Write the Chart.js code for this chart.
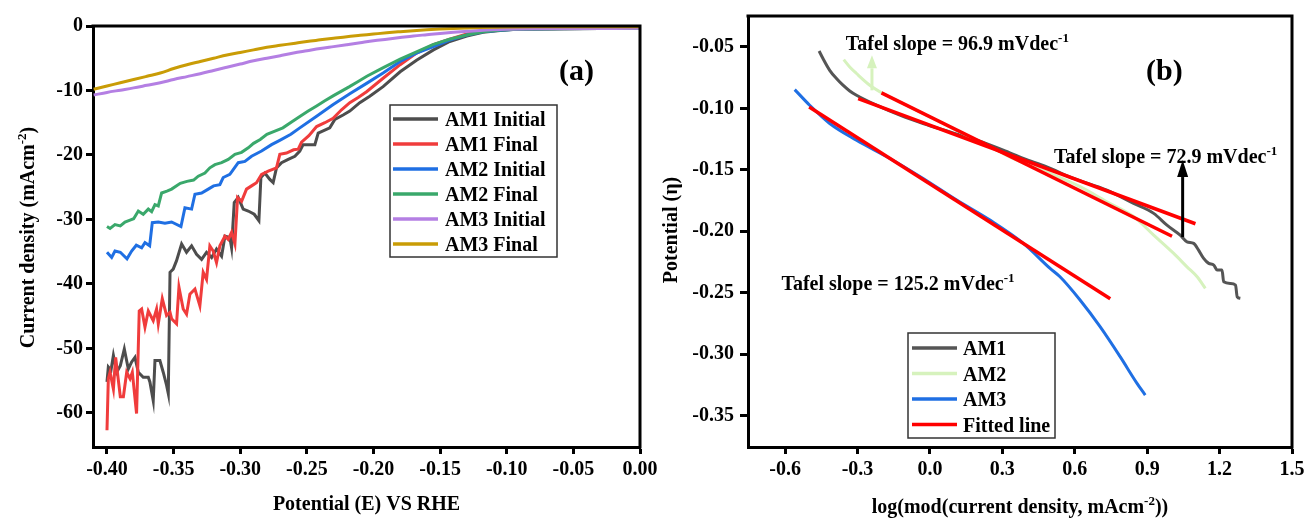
<!DOCTYPE html>
<html>
<head>
<meta charset="utf-8">
<title>LSV and Tafel plots</title>
<script src="https://cdn.jsdelivr.net/npm/chart.js@4.4.1/dist/chart.umd.min.js"></script>
<style>
  html, body { margin: 0; padding: 0; background: #fff; }
  #wrap { position: relative; width: 1308px; height: 519px; overflow: hidden; background: #fff; }
  #wrap canvas { position: absolute; left: 0; top: 0; }
</style>
</head>
<body>
<div id="wrap">
  <canvas id="lsv" width="1308" height="519"></canvas>
  <canvas id="tafel" width="1308" height="519"></canvas>
</div>
<script>
// ---------- Panel (a): polarization curves, current density vs potential ----------
const lsvLabels = ['AM1 Initial', 'AM1 Final', 'AM2 Initial', 'AM2 Final', 'AM3 Initial', 'AM3 Final'];
const lsvColors = ['#4d4d4d', '#f03c3c', '#1f6fe3', '#3aa86b', '#b47fe3', '#c99c06'];
const lsvSmooth = [false, false, false, false, true, true];

const am1InitialX = [-0.400,-0.399,-0.397,-0.3952,-0.3927,-0.390,-0.387,-0.384,-0.3815,-0.379,-0.3765,-0.3728,-0.369,-0.3678,-0.3653,-0.364,-0.3603,-0.3578,-0.3553,-0.354,-0.3527,-0.3503,-0.3478,-0.344,-0.3403,-0.3365,-0.3328,-0.329,-0.3253,-0.3215,-0.3178,-0.314,-0.3115,-0.3078,-0.3065,-0.3045,-0.3015,-0.2978,-0.294,-0.2895,-0.286,-0.2845,-0.2815,-0.2778,-0.2753,-0.2728,-0.269,-0.264,-0.259,-0.2553,-0.2528,-0.244,-0.2415,-0.2328,-0.229,-0.2228,-0.2178,-0.2103,-0.2028,-0.1928,-0.180,-0.1677,-0.155,-0.1428,-0.130,-0.1178,-0.105,-0.0927,-0.070,-0.040,0.000];
const am1InitialY = [-55.2,-52.9,-53.4,-51.1,-53.7,-52.7,-50.1,-53.2,-52.1,-51.4,-53.7,-54.5,-54.5,-55.2,-58.1,-51.9,-51.9,-53.7,-55.7,-57.0,-38.2,-37.7,-36.4,-33.8,-35.1,-34.1,-35.4,-36.2,-35.1,-35.9,-34.6,-35.7,-32.6,-32.8,-34.4,-27.4,-26.6,-28.4,-28.7,-29.2,-30.2,-23.5,-22.8,-23.8,-24.3,-22.0,-21.2,-20.7,-20.2,-19.4,-18.4,-18.4,-16.6,-15.8,-14.5,-13.8,-13.2,-11.9,-10.9,-9.4,-7.1,-5.3,-3.7,-2.4,-1.55,-0.98,-0.7,-0.5,-0.42,-0.38,-0.35];

const am1FinalX = [-0.400,-0.399,-0.3977,-0.3952,-0.3935,-0.390,-0.3877,-0.3852,-0.3827,-0.381,-0.3778,-0.3758,-0.374,-0.3715,-0.369,-0.3653,-0.3628,-0.3615,-0.3585,-0.3553,-0.3527,-0.3515,-0.3478,-0.346,-0.3428,-0.3403,-0.3378,-0.334,-0.3303,-0.3278,-0.3253,-0.3228,-0.3203,-0.3178,-0.3153,-0.3115,-0.309,-0.3065,-0.304,-0.302,-0.299,-0.2953,-0.2915,-0.2878,-0.284,-0.279,-0.2728,-0.2703,-0.2653,-0.260,-0.2565,-0.254,-0.2485,-0.2427,-0.2365,-0.2303,-0.224,-0.2178,-0.2115,-0.2052,-0.1928,-0.180,-0.1677,-0.155,-0.1428,-0.130,-0.1178,-0.105,-0.0927,-0.060,-0.030,0.000];
const am1FinalY = [-62.7,-54.7,-53.7,-56.3,-51.4,-57.5,-57.5,-53.7,-54.7,-53.7,-60.1,-44.2,-43.9,-46.7,-44.2,-45.7,-43.9,-46.2,-42.3,-44.9,-44.4,-45.4,-46.2,-40.5,-43.9,-44.7,-41.6,-40.8,-43.4,-38.2,-39.3,-34.1,-34.9,-36.7,-34.1,-32.6,-33.1,-32.0,-33.8,-26.6,-27.2,-25.3,-24.8,-24.3,-23.0,-22.5,-22.0,-19.9,-19.7,-19.2,-19.1,-18.0,-17.0,-15.6,-15.0,-14.3,-13.0,-11.9,-11.1,-10.2,-8.1,-6.0,-4.2,-2.9,-2.06,-1.24,-0.77,-0.6,-0.5,-0.42,-0.4,-0.38];

const am2InitialX = [-0.400,-0.3965,-0.394,-0.390,-0.385,-0.3815,-0.378,-0.374,-0.3715,-0.368,-0.366,-0.3615,-0.3565,-0.3515,-0.3445,-0.3415,-0.3365,-0.334,-0.329,-0.324,-0.320,-0.3153,-0.3128,-0.3078,-0.3015,-0.2965,-0.2915,-0.284,-0.2765,-0.270,-0.262,-0.2553,-0.2427,-0.2305,-0.2178,-0.2052,-0.1928,-0.180,-0.1677,-0.155,-0.1428,-0.130,-0.118,-0.105,-0.0927,-0.060,-0.030,0.000];
const am2InitialY = [-35.1,-35.9,-34.9,-35.1,-36.1,-34.9,-34.0,-34.4,-33.6,-34.1,-30.5,-30.4,-30.6,-30.4,-31.1,-28.2,-28.4,-26.1,-25.9,-25.3,-24.8,-24.6,-23.5,-23.0,-21.2,-21.0,-20.2,-19.4,-18.4,-17.7,-16.8,-15.8,-14.0,-12.2,-10.5,-8.9,-7.3,-5.5,-4.2,-3.2,-2.2,-1.4,-0.9,-0.65,-0.5,-0.42,-0.4,-0.38];

const am2FinalX = [-0.400,-0.3977,-0.394,-0.390,-0.3865,-0.3827,-0.380,-0.3765,-0.3728,-0.369,-0.3665,-0.364,-0.3615,-0.359,-0.355,-0.3515,-0.345,-0.340,-0.335,-0.3315,-0.3265,-0.3228,-0.319,-0.314,-0.309,-0.304,-0.299,-0.294,-0.290,-0.285,-0.280,-0.274,-0.268,-0.2615,-0.255,-0.249,-0.2427,-0.2365,-0.230,-0.224,-0.218,-0.2115,-0.205,-0.193,-0.180,-0.1677,-0.1555,-0.143,-0.130,-0.118,-0.105,-0.0927,-0.060,-0.030,0.000];
const am2FinalY = [-31.1,-31.4,-30.8,-31.0,-30.4,-30.1,-29.9,-28.7,-29.2,-28.4,-28.8,-27.7,-27.9,-25.9,-25.6,-25.3,-24.4,-24.1,-23.9,-23.3,-22.8,-22.0,-21.5,-21.2,-20.7,-19.9,-19.6,-18.9,-18.2,-17.6,-16.8,-16.3,-15.8,-14.9,-14.0,-13.2,-12.4,-11.6,-10.8,-10.1,-9.4,-8.6,-7.8,-6.5,-5.15,-4.0,-2.9,-2.06,-1.4,-0.88,-0.62,-0.5,-0.42,-0.4,-0.38];

const am3InitialX = [-0.41,-0.40,-0.39,-0.38,-0.37,-0.36,-0.35,-0.34,-0.33,-0.32,-0.31,-0.30,-0.29,-0.28,-0.27,-0.26,-0.25,-0.24,-0.23,-0.22,-0.21,-0.20,-0.19,-0.18,-0.17,-0.16,-0.15,-0.14,-0.13,-0.12,-0.11,-0.10,-0.08,-0.06,-0.04,-0.02,0.00];
const am3InitialY = [-10.7,-10.3,-9.95,-9.6,-9.2,-8.8,-8.3,-7.85,-7.4,-6.9,-6.4,-5.9,-5.4,-5.0,-4.6,-4.2,-3.85,-3.5,-3.2,-2.9,-2.6,-2.3,-2.05,-1.8,-1.55,-1.35,-1.15,-0.97,-0.82,-0.68,-0.57,-0.5,-0.43,-0.4,-0.38,-0.37,-0.36];

const am3FinalX = [-0.41,-0.40,-0.39,-0.38,-0.37,-0.36,-0.35,-0.34,-0.33,-0.32,-0.31,-0.30,-0.29,-0.28,-0.27,-0.26,-0.25,-0.24,-0.23,-0.22,-0.21,-0.20,-0.19,-0.18,-0.17,-0.16,-0.15,-0.14,-0.13,-0.12,-0.11,-0.10,-0.08,-0.06,-0.04,-0.02,0.00];
const am3FinalY = [-9.8,-9.3,-8.8,-8.3,-7.8,-7.3,-6.6,-6.0,-5.5,-5.0,-4.5,-4.1,-3.7,-3.3,-3.0,-2.7,-2.4,-2.15,-1.9,-1.65,-1.45,-1.25,-1.05,-0.88,-0.72,-0.58,-0.47,-0.38,-0.3,-0.23,-0.18,-0.15,-0.12,-0.11,-0.1,-0.1,-0.1];

const lsvXTicks = [-0.40, -0.35, -0.30, -0.25, -0.20, -0.15, -0.10, -0.05, 0.00];
const lsvYTicks = [0, -10, -20, -30, -40, -50, -60];

// ---------- Panel (b): Tafel plots, overpotential vs log|j| ----------
const tafelLabels = ['AM1', 'AM2', 'AM3'];
const tafelColors = ['#555555', '#d6f2bd', '#1f6fe3'];

const am1LogJ = [-0.459,-0.443,-0.415,-0.387,-0.360,-0.332,-0.304,-0.221,-0.1245,-0.028,0.083,0.194,0.304,0.387,0.484,0.595,0.733,0.844,0.927,0.982,1.037,1.065,1.093,1.113,1.134,1.155,1.176,1.19,1.21,1.217,1.245,1.266,1.273,1.286];
const am1Eta  = [-0.0533,-0.0594,-0.069,-0.0757,-0.0811,-0.0858,-0.0893,-0.0974,-0.1055,-0.1123,-0.1191,-0.1259,-0.134,-0.1407,-0.1476,-0.157,-0.1665,-0.1773,-0.1854,-0.195,-0.2031,-0.2085,-0.2098,-0.2153,-0.222,-0.2261,-0.2275,-0.2315,-0.2315,-0.2411,-0.2424,-0.2437,-0.2533,-0.2545];

const am2LogJ = [-0.357,-0.332,-0.304,-0.249,-0.194,-0.097,0.014,0.124,0.249,0.36,0.498,0.62,0.733,0.844,0.927,1.01,1.065,1.107,1.141];
const am2Eta  = [-0.0603,-0.0663,-0.0716,-0.0811,-0.0879,-0.0974,-0.1082,-0.1191,-0.1313,-0.1421,-0.1529,-0.1635,-0.176,-0.188,-0.2031,-0.218,-0.2289,-0.237,-0.2464];

const am3LogJ = [-0.560,-0.498,-0.415,-0.304,-0.166,-0.028,0.111,0.249,0.387,0.498,0.539,0.622,0.705,0.788,0.858,0.892];
const am3Eta  = [-0.0847,-0.0974,-0.1123,-0.1259,-0.1407,-0.157,-0.1746,-0.1909,-0.2098,-0.2302,-0.237,-0.2559,-0.2776,-0.302,-0.3237,-0.3332];

// Linear Tafel fits: slope in mV/dec for AM1, AM2, AM3
const fitLabel = 'Fitted line';
const fitColor = '#ff0000';
const tafelSlopes = [72.9, 96.9, 125.2];
const fitStartX = [-0.297, -0.2006, -0.500];
const fitStartY = [-0.0920, -0.0874, -0.0988];
const fitEndX   = [1.100, 1.003, 0.747];

// Slope labels (left/baseline anchor, data units) and pointer arrows
const slopeLabelX = [0.5145, -0.3485, -0.615];
const slopeLabelY = [-0.1448, -0.0521, -0.2478];
const arrowX      = [1.047, -0.240];
const arrowTailY  = [-0.2047, -0.0853];
const arrowTipY   = [-0.1420, -0.0568];
const arrowColors = ['#000000', tafelColors[1]];

const tafelXTicks = [-0.6, -0.3, 0.0, 0.3, 0.6, 0.9, 1.2, 1.5];
const tafelYTicks = [-0.05, -0.10, -0.15, -0.20, -0.25, -0.30, -0.35];

// ---------- helpers ----------
const SERIF = "'Liberation Serif', 'Times New Roman', Times, serif";
Chart.defaults.font.family = SERIF;
Chart.defaults.font.size = 20;
Chart.defaults.font.weight = 'bold';
Chart.defaults.color = '#000';

const pts = (xs, ys) => xs.map((x, i) => ({ x: x, y: ys[i] }));
const fmt = (v, d) => (Math.abs(v) < 1e-9 ? 0 : v).toFixed(d);

function axis(o) {
  return {
    type: 'linear',
    position: o.position,
    min: o.min,
    max: o.max,
    afterBuildTicks: s => { s.ticks = o.ticks.map(v => ({ value: v })); },
    afterFit: s => {
      if (o.height) s.height = o.height;
      if (o.width) s.width = o.width;
      s.paddingLeft = 0; s.paddingRight = 0; s.paddingTop = 0; s.paddingBottom = 0;
    },
    ticks: {
      autoSkip: false, maxRotation: 0, minRotation: 0, padding: o.pad,
      color: '#000', font: { size: 20, weight: 'bold', family: SERIF },
      callback: v => fmt(v, o.dec)
    },
    grid: { display: true, drawOnChartArea: false, drawTicks: true, tickLength: o.tick, tickWidth: 3, tickColor: '#000' },
    border: { display: true, color: '#000', width: 3 }
  };
}

function richText(ctx, parts, x, y, align, rot) {
  const mainFont = `bold 20px ${SERIF}`;
  const supFont = `bold 13px ${SERIF}`;
  ctx.save();
  ctx.translate(x, y);
  if (rot) ctx.rotate(rot);
  ctx.textBaseline = 'alphabetic';
  ctx.textAlign = 'left';
  ctx.fillStyle = '#000';
  let total = 0;
  parts.forEach(p => { ctx.font = p.sup ? supFont : mainFont; total += ctx.measureText(p.t).width; });
  let cx = align === 'center' ? -total / 2 : 0;
  parts.forEach(p => {
    ctx.font = p.sup ? supFont : mainFont;
    ctx.fillText(p.t, cx, p.sup ? -8 : 0);
    cx += ctx.measureText(p.t).width;
  });
  ctx.restore();
}

function frame(ctx, a) {
  ctx.save();
  ctx.strokeStyle = '#000';
  ctx.lineWidth = 3;
  ctx.beginPath();
  ctx.moveTo(a.left - 1.5, a.top);
  ctx.lineTo(a.right, a.top);
  ctx.lineTo(a.right, a.bottom + 1.5);
  ctx.stroke();
  ctx.restore();
}

function drawLegend(ctx, box, entries, g) {
  ctx.save();
  ctx.fillStyle = '#fff';
  ctx.fillRect(box.x, box.y, box.w, box.h);
  ctx.strokeStyle = '#333';
  ctx.lineWidth = 1.5;
  ctx.strokeRect(box.x, box.y, box.w, box.h);
  ctx.font = `bold 20px ${SERIF}`;
  ctx.textBaseline = 'alphabetic';
  ctx.textAlign = 'left';
  entries.forEach((e, i) => {
    const y = g.y0 + i * g.dy;
    ctx.strokeStyle = e.color;
    ctx.lineWidth = 3.5;
    ctx.beginPath();
    ctx.moveTo(g.x0, y);
    ctx.lineTo(g.x1, y);
    ctx.stroke();
    ctx.fillStyle = '#000';
    ctx.fillText(e.label, g.tx, y + 7);
  });
  ctx.restore();
}

function upArrow(ctx, x, yTail, yTip, color, headLen, headW) {
  ctx.save();
  ctx.strokeStyle = color;
  ctx.fillStyle = color;
  ctx.lineWidth = 3;
  ctx.beginPath();
  ctx.moveTo(x, yTail);
  ctx.lineTo(x, yTip + headLen);
  ctx.stroke();
  ctx.beginPath();
  ctx.moveTo(x, yTip);
  ctx.lineTo(x - headW / 2, yTip + headLen);
  ctx.lineTo(x + headW / 2, yTip + headLen);
  ctx.closePath();
  ctx.fill();
  ctx.restore();
}

// ---------- chart (a) ----------
const lsvSeries = [
  [am1InitialX, am1InitialY], [am1FinalX, am1FinalY],
  [am2InitialX, am2InitialY], [am2FinalX, am2FinalY],
  [am3InitialX, am3InitialY], [am3FinalX, am3FinalY]
];

const lsvDecor = {
  id: 'lsvDecor',
  afterDraw(chart) {
    const ctx = chart.ctx, a = chart.chartArea;
    frame(ctx, a);
    ctx.save();
    ctx.fillStyle = '#000';
    ctx.font = `bold 30px ${SERIF}`;
    ctx.textBaseline = 'alphabetic';
    ctx.fillText('(a)', 559, 80);
    ctx.restore();
    richText(ctx, [{ t: 'Potential (E) VS RHE' }], (a.left + a.right) / 2, 510, 'center');
    richText(ctx, [{ t: 'Current density (mAcm' }, { t: '-2', sup: true }, { t: ')' }], 33.5, 237.5, 'center', -Math.PI / 2);
    drawLegend(ctx, { x: 390, y: 105, w: 167, h: 152 },
      lsvLabels.map((l, i) => ({ label: l, color: lsvColors[i] })),
      { x0: 393, x1: 438, tx: 445, y0: 119, dy: 25 });
  }
};

new Chart(document.getElementById('lsv'), {
  type: 'scatter',
  data: {
    datasets: lsvSeries.map(([xs, ys], i) => ({
      label: lsvLabels[i],
      data: pts(xs, ys),
      showLine: true,
      cubicInterpolationMode: lsvSmooth[i] ? 'monotone' : 'default',
      borderColor: lsvColors[i],
      backgroundColor: lsvColors[i],
      borderWidth: 3,
      pointRadius: 0,
      pointHoverRadius: 0,
      order: lsvSeries.length - i
    }))
  },
  options: {
    responsive: false,
    animation: false,
    events: [],
    layout: { padding: { left: 0, top: 26, right: 668, bottom: 0 } },
    plugins: { legend: { display: false }, tooltip: { enabled: false } },
    scales: {
      x: axis({ position: 'bottom', min: -0.4105, max: 0, ticks: lsvXTicks, dec: 2, height: 72, tick: 7, pad: 4 }),
      y: axis({ position: 'left', min: -65.3, max: 0, ticks: lsvYTicks, dec: 0, width: 93, tick: 7, pad: 3 })
    }
  },
  plugins: [lsvDecor]
});

// ---------- chart (b) ----------
const tafelSeries = [[am1LogJ, am1Eta], [am2LogJ, am2Eta], [am3LogJ, am3Eta]];

const fitSets = tafelSlopes.map((s, i) => ({
  label: fitLabel,
  data: [
    { x: fitStartX[i], y: fitStartY[i] },
    { x: fitEndX[i], y: fitStartY[i] - (s / 1000) * (fitEndX[i] - fitStartX[i]) }
  ],
  showLine: true,
  borderColor: fitColor,
  backgroundColor: fitColor,
  borderWidth: 3.5,
  pointRadius: 0,
  pointHoverRadius: 0,
  order: 3 - i
}));

const tafelDecor = {
  id: 'tafelDecor',
  afterDraw(chart) {
    const ctx = chart.ctx, a = chart.chartArea;
    const xs = chart.scales.x, ys = chart.scales.y;
    frame(ctx, a);
    ctx.save();
    ctx.fillStyle = '#000';
    ctx.font = `bold 30px ${SERIF}`;
    ctx.textBaseline = 'alphabetic';
    ctx.fillText('(b)', 1146, 80);
    ctx.restore();
    richText(ctx, [{ t: 'log(mod(current density, mAcm' }, { t: '-2', sup: true }, { t: '))' }], (a.left + a.right) / 2, 513, 'center');
    richText(ctx, [{ t: 'Potential (\u03b7)' }], 677, 230, 'center', -Math.PI / 2);

    tafelSlopes.forEach((s, i) => {
      richText(ctx, [{ t: `Tafel slope = ${s.toFixed(1)} mVdec` }, { t: '-1', sup: true }],
        xs.getPixelForValue(slopeLabelX[i]), ys.getPixelForValue(slopeLabelY[i]), 'left');
    });
    arrowX.forEach((x, i) => {
      upArrow(ctx, xs.getPixelForValue(x), ys.getPixelForValue(arrowTailY[i]), ys.getPixelForValue(arrowTipY[i]),
        arrowColors[i], i === 0 ? 17 : 13, i === 0 ? 11 : 10);
    });

    const entries = tafelLabels.map((l, i) => ({ label: l, color: tafelColors[i] }));
    entries.push({ label: fitLabel, color: fitColor });
    drawLegend(ctx, { x: 908, y: 333, w: 147, h: 105 }, entries, { x0: 912, x1: 957, tx: 963, y0: 348, dy: 25.5 });
  }
};

new Chart(document.getElementById('tafel'), {
  type: 'scatter',
  data: {
    datasets: tafelSeries.map(([xs, ys], i) => ({
      label: tafelLabels[i],
      data: pts(xs, ys),
      showLine: true,
      cubicInterpolationMode: 'monotone',
      borderColor: tafelColors[i],
      backgroundColor: tafelColors[i],
      borderWidth: 3,
      pointRadius: 0,
      pointHoverRadius: 0,
      order: 10 - i
    })).concat(fitSets)
  },
  options: {
    responsive: false,
    animation: false,
    events: [],
    layout: { padding: { left: 655, top: 16, right: 16, bottom: 0 } },
    plugins: { legend: { display: false }, tooltip: { enabled: false } },
    scales: {
      x: axis({ position: 'bottom', min: -0.7535, max: 1.5, ticks: tafelXTicks, dec: 1, height: 72, tick: 7, pad: 4 }),
      y: axis({ position: 'left', min: -0.3755, max: -0.0248, ticks: tafelYTicks, dec: 2, width: 93, tick: 8, pad: 6 })
    }
  },
  plugins: [tafelDecor]
});
</script>
</body>
</html>
